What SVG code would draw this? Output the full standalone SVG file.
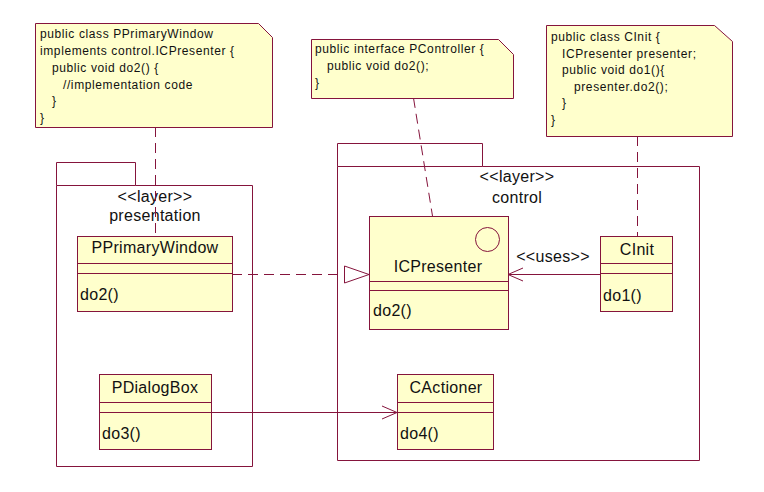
<svg xmlns="http://www.w3.org/2000/svg" width="764" height="492" viewBox="0 0 764 492">
<defs>
<style>
.ln{stroke:#85143C;stroke-width:1;fill:none}
.box{stroke:#85143C;stroke-width:1;fill:#FFFFCC}
.pkg{stroke:#85143C;stroke-width:1;fill:none}
.dash{stroke:#85143C;stroke-width:1;fill:none;stroke-dasharray:10,6}
.note{font-family:"Liberation Sans",Arial,sans-serif;font-size:12px;letter-spacing:0.6px;fill:#111}
.lbl{font-family:"Liberation Sans",Arial,sans-serif;font-size:16px;letter-spacing:0.3px;fill:#111}
.mid{text-anchor:middle}
</style>
</defs>
<rect width="764" height="492" fill="#fff"/>

<g id="pkg-presentation">
<path class="pkg" d="M56.5,185.5 V466.5 H252.5 V185.5 H135.5 V162.5 H56.5 V185.5 H135.5"/>
<text class="lbl mid" x="155" y="202">&lt;&lt;layer&gt;&gt;</text>
<text class="lbl mid" x="155" y="221">presentation</text>
</g>

<g id="pkg-control">
<path class="pkg" d="M337.5,166.5 V460.5 H699.5 V166.5 H482.5 V143.5 H337.5 V166.5 H482.5"/>
<text class="lbl mid" x="517" y="182">&lt;&lt;layer&gt;&gt;</text>
<text class="lbl mid" x="517" y="203">control</text>
</g>

<g id="connectors">
<line class="dash" x1="155.5" y1="127" x2="155.5" y2="236"/>
<line class="dash" x1="413.5" y1="98" x2="432.5" y2="216"/>
<line class="dash" x1="637.5" y1="136" x2="637.5" y2="236"/>
<line class="dash" x1="232" y1="274.5" x2="344" y2="274.5"/>
<polygon points="344.5,266 369,274.5 344.5,283" fill="#fff" stroke="#85143C" stroke-width="1"/>
<line class="ln" x1="600" y1="274.5" x2="508" y2="274.5"/>
<polyline class="ln" points="523,268 508,274.5 523,281"/>
<text class="lbl mid" x="553" y="262">&lt;&lt;uses&gt;&gt;</text>
<line class="ln" x1="211" y1="412.5" x2="397" y2="412.5"/>
<polyline class="ln" points="382,406 397,412.5 382,419"/>
</g>

<g id="note-ppw">
<path class="box" d="M35.5,23.5 H258.5 L272.5,37.5 V127.5 H35.5 Z"/>
<text class="note" x="40" y="38">public class PPrimaryWindow</text>
<text class="note" x="40" y="55">implements control.ICPresenter {</text>
<text class="note" x="52" y="72">public void do2() {</text>
<text class="note" x="63" y="89">//implementation code</text>
<text class="note" x="52" y="105">}</text>
<text class="note" x="40" y="122">}</text>
</g>

<g id="note-pcontroller">
<path class="box" d="M311.5,39.5 H498.5 L513.5,54.5 V98.5 H311.5 Z"/>
<text class="note" x="315" y="53">public interface PController {</text>
<text class="note" x="327" y="70">public void do2();</text>
<text class="note" x="315" y="87">}</text>
</g>

<g id="note-cinit">
<path class="box" d="M546.5,25.5 H714.5 L732.5,41.5 V136.5 H546.5 Z"/>
<text class="note" x="551" y="41">public class CInit {</text>
<text class="note" x="562" y="58">ICPresenter presenter;</text>
<text class="note" x="562" y="74">public void do1(){</text>
<text class="note" x="574" y="91">presenter.do2();</text>
<text class="note" x="562" y="107">}</text>
<text class="note" x="551" y="124">}</text>
</g>

<g id="class-ppw">
<rect class="box" x="77.5" y="236.5" width="155" height="75"/>
<line class="ln" x1="77.5" y1="263.5" x2="232.5" y2="263.5"/>
<line class="ln" x1="77.5" y1="273.5" x2="232.5" y2="273.5"/>
<text class="lbl mid" x="155" y="253">PPrimaryWindow</text>
<text class="lbl" x="80" y="300">do2()</text>
</g>

<g id="class-icpresenter">
<rect class="box" x="369.5" y="216.5" width="139" height="113"/>
<line class="ln" x1="369.5" y1="281.5" x2="508.5" y2="281.5"/>
<line class="ln" x1="369.5" y1="290.5" x2="508.5" y2="290.5"/>
<circle class="ln" cx="487.5" cy="239.5" r="12"/>
<text class="lbl mid" x="438" y="272">ICPresenter</text>
<text class="lbl" x="373" y="316">do2()</text>
</g>

<g id="class-cinit">
<rect class="box" x="600.5" y="236.5" width="72" height="75"/>
<line class="ln" x1="600.5" y1="263.5" x2="672.5" y2="263.5"/>
<line class="ln" x1="600.5" y1="273.5" x2="672.5" y2="273.5"/>
<text class="lbl mid" x="637" y="255">CInit</text>
<text class="lbl" x="603" y="301">do1()</text>
</g>

<g id="class-pdialogbox">
<rect class="box" x="99.5" y="374.5" width="112" height="75"/>
<line class="ln" x1="99.5" y1="402.5" x2="211.5" y2="402.5"/>
<line class="ln" x1="99.5" y1="412.5" x2="211.5" y2="412.5"/>
<text class="lbl mid" x="155" y="393">PDialogBox</text>
<text class="lbl" x="102" y="439">do3()</text>
</g>

<g id="class-cactioner">
<rect class="box" x="397.5" y="374.5" width="96" height="75"/>
<line class="ln" x1="397.5" y1="402.5" x2="493.5" y2="402.5"/>
<line class="ln" x1="397.5" y1="412.5" x2="493.5" y2="412.5"/>
<text class="lbl mid" x="446" y="393">CActioner</text>
<text class="lbl" x="400" y="439">do4()</text>
</g>
</svg>
